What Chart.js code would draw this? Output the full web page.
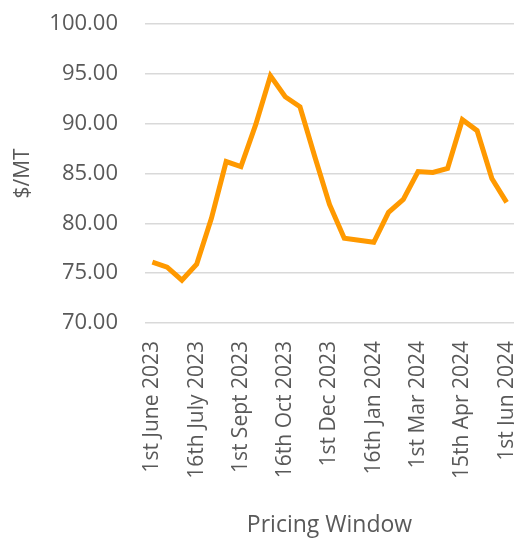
<!DOCTYPE html>
<html>
<head>
<meta charset="utf-8">
<script src="https://cdn.jsdelivr.net/npm/chart.js@4"></script>
<style>
  html, body { margin: 0; padding: 0; background: #fff; }
  #wrap { width: 514px; height: 539px; }
</style>
</head>
<body>
<div id="wrap"><canvas id="priceChart" width="514" height="539"></canvas></div>
<script>
// Pricing windows (half-monthly)
const windows = [
  '1st June 2023', '16th June 2023', '1st July 2023', '16th July 2023',
  '1st Aug 2023', '16th Aug 2023', '1st Sept 2023', '16th Sept 2023',
  '1st Oct 2023', '16th Oct 2023', '1st Nov 2023', '16th Nov 2023',
  '1st Dec 2023', '16th Dec 2023', '1st Jan 2024', '16th Jan 2024',
  '1st Feb 2024', '16th Feb 2024', '1st Mar 2024', '16th Mar 2024',
  '1st Apr 2024', '15th Apr 2024', '1st May 2024', '16th May 2024',
  '1st Jun 2024'
];

// $/MT per window
const prices = [
  76.1, 75.6, 74.3, 75.9, 80.5, 86.2, 85.7, 89.9, 94.8, 92.7,
  91.7, 86.7, 81.9, 78.5, 78.3, 78.1, 81.1, 82.4, 85.2, 85.1,
  85.5, 90.4, 89.3, 84.5, 82.1
];

const yTicks = [70, 75, 80, 85, 90, 95, 100];

const fontFamily = '"Open Sans", "Noto Sans", sans-serif';
const textColor = '#595959';

const ctx = document.getElementById('priceChart').getContext('2d');

new Chart(ctx, {
  type: 'line',
  data: {
    labels: windows,
    datasets: [{
      label: 'Price',
      data: prices,
      borderColor: '#FF9900',
      borderWidth: 5,
      pointRadius: 0,
      tension: 0,
      fill: false
    }]
  },
  options: {
    responsive: false,
    animation: false,
    layout: { padding: { top: 24, right: 0, left: 0, bottom: 0 } },
    scales: {
      x: {
        offset: true,
        grid: { display: false },
        border: { display: false },
        ticks: {
          autoSkip: false,
          maxRotation: 90,
          minRotation: 90,
          padding: 10,
          color: textColor,
          font: { family: fontFamily, size: 21 },
          callback: function(val, i) {
            return i % 3 === 0 ? this.getLabelForValue(val) : null;
          }
        },
        title: {
          display: true,
          text: 'Pricing Window',
          color: textColor,
          font: { family: fontFamily, size: 23 },
          padding: { top: 8, bottom: 0 }
        },
        afterFit: (s) => {
          s.height = 216;
          s.paddingLeft = 0;
          s.paddingRight = 0;
        }
      },
      y: {
        min: 70,
        max: 100,
        afterBuildTicks: (s) => { s.ticks = yTicks.map(v => ({ value: v })); },
        grid: { color: '#d9d9d9', lineWidth: 1.5, drawTicks: false },
        border: { display: false },
        ticks: {
          padding: 27,
          color: textColor,
          font: { family: fontFamily, size: 22 },
          callback: (v) => v.toFixed(2)
        },
        title: {
          display: true,
          text: '$/MT',
          color: textColor,
          font: { family: fontFamily, size: 21 },
          padding: { top: 10, bottom: 0 }
        },
        afterFit: (s) => {
          s.width = 145;
          s.paddingTop = 0;
          s.paddingBottom = 0;
        }
      }
    },
    plugins: {
      legend: { display: false },
      tooltip: { enabled: false }
    }
  }
});
</script>
</body>
</html>
